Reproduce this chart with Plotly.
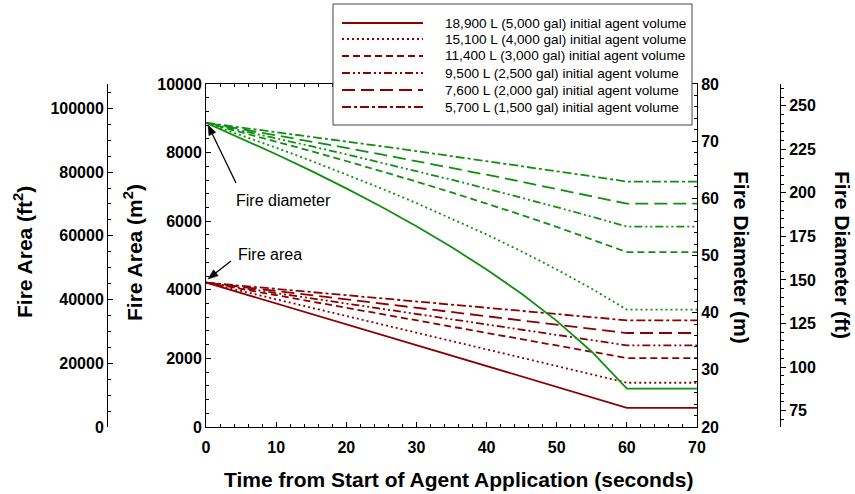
import math
import plotly.graph_objects as go

W, H = 855, 494

# ---- data -------------------------------------------------------------
volume_labels = [
    "18,900 L (5,000 gal) initial agent volume",
    "15,100 L (4,000 gal) initial agent volume",
    "11,400 L (3,000 gal) initial agent volume",
    "9,500 L (2,500 gal) initial agent volume",
    "7,600 L (2,000 gal) initial agent volume",
    "5,700 L (1,500 gal) initial agent volume",
]

# fire area (m^2) vs time
area_times = [0, 60, 70]
area_18900 = [4210, 560, 560]
area_15100 = [4210, 1290, 1290]
area_11400 = [4210, 2010, 2010]
area_9500 = [4210, 2380, 2380]
area_7600 = [4210, 2740, 2740]
area_5700 = [4210, 3110, 3110]

# fire diameter (m) vs time
diam_times = [0, 5, 10, 15, 20, 25, 30, 35, 40, 45, 50, 55, 60, 70]
diam_18900 = [73.21, 70.52, 67.72, 64.80, 61.74, 58.52, 55.11, 51.47, 47.56, 43.30, 38.57, 33.17, 26.70, 26.70]
diam_15100 = [73.21, 71.07, 68.85, 66.56, 64.20, 61.74, 59.17, 56.49, 53.68, 50.71, 47.56, 44.18, 40.53, 40.53]
diam_11400 = [73.21, 71.60, 69.95, 68.26, 66.53, 64.75, 62.93, 61.04, 59.10, 57.09, 55.01, 52.85, 50.59, 50.59]
diam_9500 = [73.21, 71.88, 70.51, 69.12, 67.70, 66.25, 64.77, 63.26, 61.70, 60.11, 58.47, 56.79, 55.05, 55.05]
diam_7600 = [73.21, 72.14, 71.05, 69.95, 68.82, 67.68, 66.52, 65.33, 64.13, 62.90, 61.65, 60.37, 59.07, 59.07]
diam_5700 = [73.21, 72.41, 71.60, 70.78, 69.95, 69.11, 68.26, 67.40, 66.53, 65.65, 64.75, 63.85, 62.93, 62.93]

area_series = [area_18900, area_15100, area_11400, area_9500, area_7600, area_5700]
diam_series = [diam_18900, diam_15100, diam_11400, diam_9500, diam_7600, diam_5700]

# ---- styling ------------------------------------------------------------
RED = "#8e0000"
GREEN = "#109010"
LW = 1.8
dashes = ["solid", "2px,3px", "7px,4px", "8px,3px,2px,3px,2px,3px", "13px,6px", "9px,3px,3px,3px"]
FONT = "Liberation Sans, Arial, sans-serif"
tickf = dict(family=FONT, size=16, color="black", weight="bold")


def px(x):
    return x / W


def py(y):
    return (H - y) / H


fig = go.Figure()

for vals, d in zip(area_series, dashes):
    fig.add_trace(go.Scatter(x=area_times, y=vals, mode="lines", xaxis="x", yaxis="y",
                             line=dict(color=RED, width=LW, dash=d),
                             showlegend=False, hoverinfo="skip"))
for vals, d in zip(diam_series, dashes):
    fig.add_trace(go.Scatter(x=diam_times, y=vals, mode="lines", xaxis="x", yaxis="y2",
                             line=dict(color=GREEN, width=LW, dash=d),
                             showlegend=False, hoverinfo="skip"))
# empty traces so the unit-conversion axes are rendered
fig.add_trace(go.Scatter(x=[None], y=[None], yaxis="y3", showlegend=False, hoverinfo="skip"))
fig.add_trace(go.Scatter(x=[None], y=[None], yaxis="y4", showlegend=False, hoverinfo="skip"))

axis_common = dict(showgrid=False, zeroline=False, showline=True, linecolor="black",
                   linewidth=1, tickcolor="black", tickfont=tickf, automargin=False)

M2_TO_FT2 = 10.7639
M_TO_FT = 3.28084

fig.update_layout(
    width=W, height=H,
    margin=dict(l=0, r=0, t=0, b=0, pad=0, autoexpand=False),
    paper_bgcolor="white", plot_bgcolor="white",
    showlegend=False,
    xaxis=dict(domain=[px(206), px(697)], range=[0, 70], dtick=10, tick0=0,
               ticks="inside", ticklen=5, mirror="ticks", ticklabelstandoff=6,
               minor=dict(dtick=2, ticks="inside", ticklen=3, tickcolor="black"),
               anchor="y", **axis_common),
    yaxis=dict(domain=[py(427), py(84)], range=[0, 10000], dtick=2000, tickformat="d",
               ticks="inside", ticklen=5,
               minor=dict(dtick=400, ticks="inside", ticklen=3, tickcolor="black"),
               anchor="x", **axis_common),
    yaxis2=dict(domain=[py(427), py(84)], range=[20, 80], dtick=10, overlaying="y",
                side="right", anchor="x", ticks="inside", ticklen=5,
                minor=dict(dtick=2, ticks="inside", ticklen=3, tickcolor="black"),
                **axis_common),
    yaxis3=dict(range=[0, 10000 * M2_TO_FT2], dtick=20000, tickformat="d",
                overlaying="y", side="left", anchor="free", position=px(107),
                ticks="inside", ticklen=5,
                minor=dict(dtick=5000, ticks="inside", ticklen=3, tickcolor="black"),
                **axis_common),
    yaxis4=dict(range=[20 * M_TO_FT, 80 * M_TO_FT], dtick=25, tick0=0,
                overlaying="y", side="right", anchor="free", position=px(780),
                ticks="outside", ticklen=5,
                minor=dict(dtick=5, ticks="outside", ticklen=3, tickcolor="black"),
                **axis_common),
)

ann = []
title_font = dict(family=FONT, size=21, color="black", weight="bold")
ann.append(dict(text="Fire Area (ft<sup>2</sup>)", x=px(23), y=py(252), textangle=-90,
                font=title_font))
ann.append(dict(text="Fire Area (m<sup>2</sup>)", x=px(133), y=py(253), textangle=-90,
                font=title_font))
ann.append(dict(text="Fire Diameter (m)", x=px(742), y=py(257), textangle=90,
                font=title_font))
ann.append(dict(text="Fire Diameter (ft)", x=px(842), y=py(255), textangle=90,
                font=title_font))
ann.append(dict(text="Time from Start of Agent Application (seconds)", x=px(458), y=py(479),
                font=title_font))
for a in ann:
    a.update(xref="paper", yref="paper", showarrow=False, xanchor="center", yanchor="middle")

# callouts for the two families of curves
note_font = dict(family=FONT, size=16, color="black")
ann.append(dict(text="Fire diameter", x=10.98, y=6618, xref="x", yref="y", showarrow=False,
                font=note_font))
ann.append(dict(text="Fire area", x=9.12, y=5015, xref="x", yref="y", showarrow=False,
                font=note_font))

shapes = []


def arrow(tail, head, head_len=10, head_half=3.8):
    """Pointer line plus a filled head, given pixel positions of tail and tip."""
    tx, ty = tail
    hx, hy = head
    L = math.hypot(hx - tx, hy - ty)
    ux, uy = (hx - tx) / L, (hy - ty) / L
    bx, by = hx - ux * head_len, hy - uy * head_len
    pxv, pyv = -uy, ux
    shapes.append(dict(type="line", xref="paper", yref="paper",
                       x0=px(tx), y0=py(ty), x1=px(bx + ux * 2), y1=py(by + uy * 2),
                       line=dict(color="black", width=1.3)))
    c1 = (bx + pxv * head_half, by + pyv * head_half)
    c2 = (bx - pxv * head_half, by - pyv * head_half)
    path = "M {:.5f} {:.5f} L {:.5f} {:.5f} L {:.5f} {:.5f} Z".format(
        px(hx), py(hy), px(c1[0]), py(c1[1]), px(c2[0]), py(c2[1]))
    shapes.append(dict(type="path", xref="paper", yref="paper", path=path,
                       fillcolor="black", line=dict(color="black", width=0.5)))


arrow((236, 183), (208, 125))
arrow((231, 261), (208, 279))

# legend box
shapes.append(dict(type="rect", xref="paper", yref="paper", x0=px(333), x1=px(692),
                   y0=py(125), y1=py(4), line=dict(color="#444", width=1),
                   fillcolor="white", layer="above"))
row_y = [23, 39, 56, 73, 90, 107]
for lab, d, ry in zip(volume_labels, dashes, row_y):
    shapes.append(dict(type="line", xref="paper", yref="paper", x0=px(342), x1=px(423),
                       y0=py(ry), y1=py(ry), line=dict(color=RED, width=LW, dash=d),
                       layer="above"))
    ann.append(dict(text=lab, x=px(443), y=py(ry), xref="paper", yref="paper",
                    showarrow=False, xanchor="left", yanchor="middle",
                    font=dict(family=FONT, size=13.6, color="black")))

fig.update_layout(annotations=ann, shapes=shapes)

fig.write_html("out.html")
